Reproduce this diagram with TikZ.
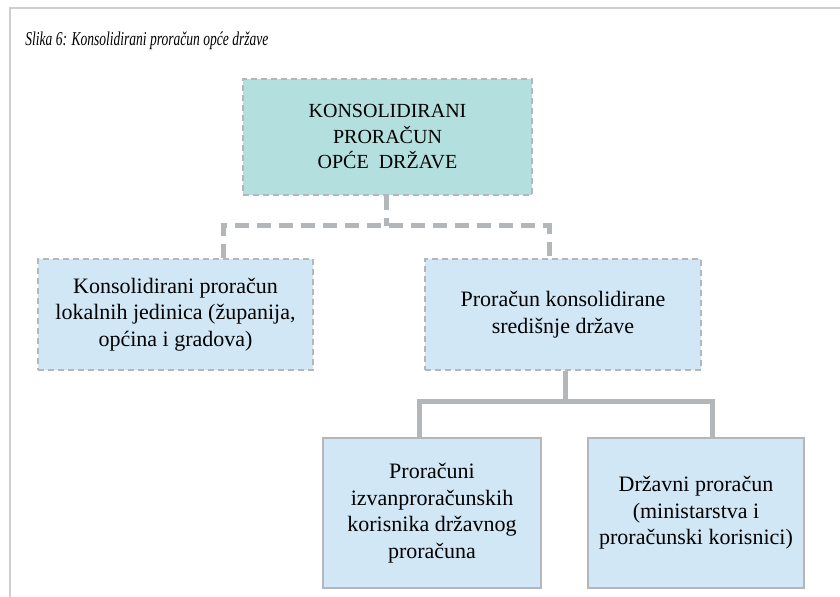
\documentclass[tikz,border=0pt]{standalone}
\usepackage{fontspec}
\setmainfont{Liberation Serif}
\newfontfamily\titlefont[FakeStretch=0.69]{Liberation Serif}
\usepackage{xcolor}
\usepackage{tikz}
\usetikzlibrary{positioning}

\definecolor{tealfill}{RGB}{179,224,222}
\definecolor{bluefill}{RGB}{210,231,246}
\definecolor{linegray}{RGB}{180,183,186}
\definecolor{framegray}{RGB}{205,207,207}

\begin{document}
\begin{tikzpicture}[x=0.5pt, y=-0.5pt,
    every node/.style = {align=center, inner sep=0pt, text=black},
    dashbox/.style = {rectangle, draw=linegray, line width=1pt, dash pattern=on 3pt off 2pt},
    solidbox/.style = {rectangle, draw=linegray, line width=1.3pt, fill=bluefill,
        minimum width=109pt, minimum height=75pt, font=\fontsize{11}{13.25}\selectfont},
    dashlink/.style = {draw=linegray, line width=2.5pt, dash pattern=on 7pt off 4pt},
    solidlink/.style = {draw=linegray, line width=2.5pt}]
    \useasboundingbox (0,0) rectangle (840,597);
    % frame of the page
    \draw[framegray, line width=0.8pt] (840,8) -- (10,8) -- (10,597);
    \node[anchor=west, font=\titlefont\itshape\fontsize{9.8}{11}\selectfont] (title) at (25,41)
        {Slika 6: Konsolidirani proračun opće države};
    \node[dashbox, fill=tealfill, minimum width=144.5pt, minimum height=58pt,
        font=\fontsize{10}{12.75}\selectfont] (opca) at (387.5,137)
        {KONSOLIDIRANI\\ PRORAČUN\\ OPĆE\ \ DRŽAVE};
    \node[dashbox, fill=bluefill, minimum width=137.5pt, minimum height=55.5pt,
        font=\fontsize{11}{13.25}\selectfont] (lokalne) at (175.5,314.5)
        {Konsolidirani proračun\\ lokalnih jedinica (županija,\\ općina i gradova)};
    \node[dashbox, fill=bluefill, minimum width=138pt, minimum height=55.5pt,
        font=\fontsize{11}{13.25}\selectfont] (sredisnja) at (563,314.5)
        {Proračun konsolidirane\\ središnje države};
    \node[solidbox] (izvan) at (432,513)
        {Proračuni\\ izvanproračunskih\\ korisnika državnog\\ proračuna};
    \node[solidbox, minimum width=108pt] (drzavni) at (696,513)
        {Državni proračun\\ (ministarstva i\\ proračunski korisnici)};
    % connectors
    \coordinate (d1) at (386,226);
    \coordinate (d2) at (223,226);
    \coordinate (d3) at (549,226);
    \draw[dashlink] (opca.south -| d1) -- (d1);
    \draw[dashlink] (lokalne.north -| d2) -- (d2) -- (d3) -- (sredisnja.north -| d3);
    \coordinate (s1) at (565,402);
    \coordinate (s2) at (419,402);
    \coordinate (s3) at (712,402);
    \draw[solidlink] (sredisnja.south -| s1) -- (s1);
    \draw[solidlink] (izvan.north -| s2) -- (s2) -- (s3) -- (drzavni.north -| s3);
\end{tikzpicture}
\end{document}
